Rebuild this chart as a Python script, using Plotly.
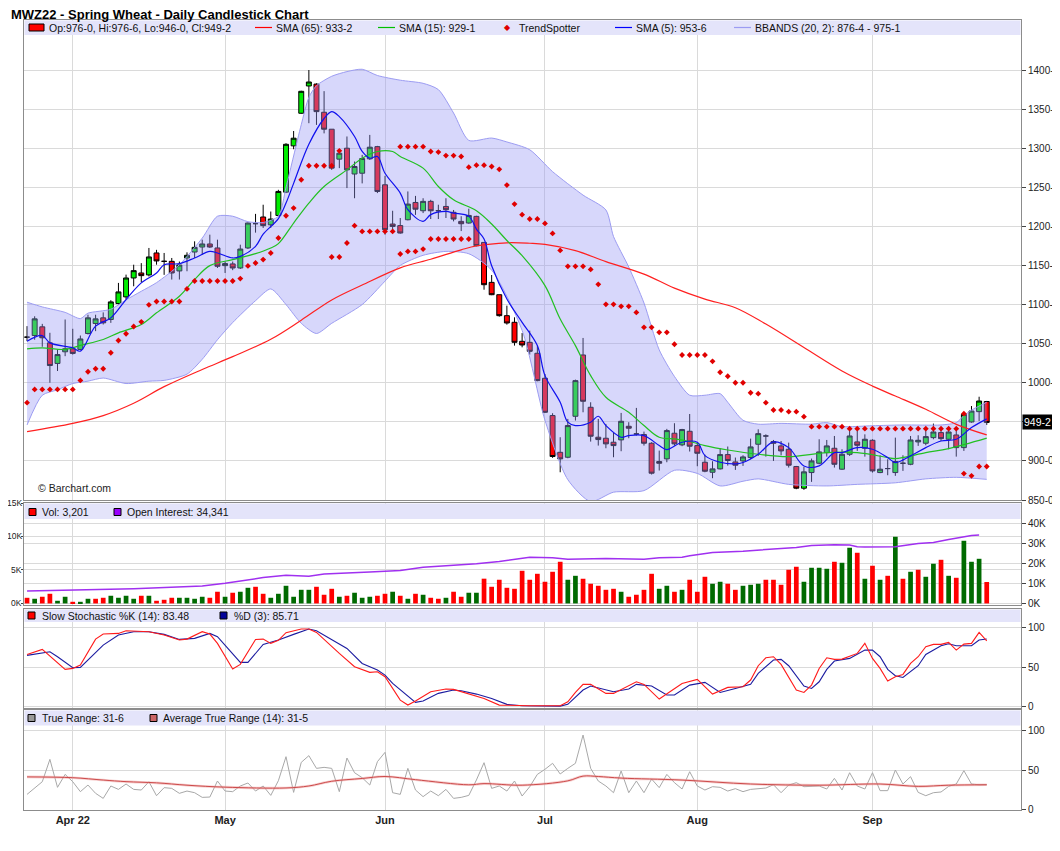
import pandas as pd
import plotly.graph_objects as go
from plotly.subplots import make_subplots

# trading days shown (exchange holidays removed)
holidays = ["2022-04-15", "2022-05-30", "2022-06-20", "2022-07-04", "2022-09-05"]
days = [d.strftime("%Y-%m-%d") for d in pd.bdate_range("2022-03-24", "2022-09-23")
        if d.strftime("%Y-%m-%d") not in holidays]

tick_dates = ["2022-04-01", "2022-05-02", "2022-06-01", "2022-07-01", "2022-08-01", "2022-09-01"]
tick_text = ["Apr 22", "May", "Jun", "Jul", "Aug", "Sep"]

opens = [1058.3, 1060.4, 1071.5, 1051, 1024.7, 1039.6, 1043.4, 1042.6, 1063, 1075.8,
         1083, 1080.9, 1101.3, 1109.8, 1134, 1140.4, 1137.9, 1166, 1155.3, 1155.3,
         1143, 1159.6, 1167.2, 1173.6, 1177.5, 1172.4, 1149.8, 1152, 1146.8, 1172.4,
         1203.5, 1212, 1202, 1214, 1243.8, 1303, 1344.7, 1379.6, 1382, 1346,
         1324.3, 1286, 1300, 1267, 1268, 1286.4, 1302, 1253.2, 1203, 1201,
         1208.5, 1230.6, 1220, 1232, 1220, 1225.5, 1218, 1206.4, 1204.3, 1212.8,
         1179.5, 1128.4, 1112.6, 1085.8, 1077.3, 1053, 1051.7, 1037.7, 1005.7, 958,
         911, 904.7, 957.1, 1035.5, 968.6, 930.3, 929, 923.9, 926.9, 944.3,
         934.5, 933.7, 922.6, 899.2, 902.6, 935.4, 920.5, 937.9, 919.6, 898.3,
         885.5, 889.8, 908.1, 898.7, 900, 904.3, 921.3, 931.9, 924.7, 919.2,
         914.9, 892.8, 865.1, 885.1, 897, 910.6, 916.2, 889.4, 908.5, 924.3,
         916.2, 926.4, 885.1, 890.2, 885.1, 897, 895.7, 924.3, 922.6, 929.8,
         936.2, 927.7, 933.2, 917, 949.8, 963, 976]
highs = [1072.4, 1085, 1075.3, 1063.9, 1042.6, 1080.9, 1069, 1060.4, 1087, 1087,
         1090, 1105.6, 1127.7, 1138.3, 1151, 1153, 1172.4, 1170, 1166, 1159.6,
         1155, 1166.8, 1180.9, 1183, 1189.4, 1183, 1155, 1155, 1176.6, 1205,
         1216, 1227.7, 1219, 1246.8, 1306.4, 1322, 1373.5, 1400, 1383, 1373,
         1324.3, 1298.7, 1315, 1283, 1291.5, 1317, 1303, 1264.7, 1220, 1210.7,
         1244.7, 1239, 1236, 1234, 1227.7, 1236, 1221, 1213, 1222.6, 1213.6,
         1179.5, 1137.8, 1112.6, 1098.6, 1083.7, 1063.6, 1066.6, 1047.5, 1011.2, 961,
         930.3, 953.7, 1004, 1057.3, 975, 953.7, 947.3, 936.7, 961.4, 949.5,
         967.8, 937.5, 923.9, 913.2, 941, 948.2, 941, 960, 923.9, 908.1,
         899.6, 916.2, 918.4, 904.3, 907.2, 928.5, 940.4, 934, 926.8, 925.5,
         923.4, 893.6, 892.3, 903, 927.7, 926.8, 931.9, 914.9, 942.6, 938.3,
         934, 927.7, 907.2, 902.1, 929.8, 907.2, 931.9, 932.8, 942.6, 947.7,
         940.4, 940.4, 940.4, 962.6, 970.2, 982.1, 976.75]
lows = [1053.2, 1055, 1046, 1000, 1015, 1034, 1036, 1041.7, 1061.7, 1066,
        1074.5, 1076.6, 1100, 1106.4, 1123.4, 1128.5, 1136, 1151, 1138, 1132,
        1132, 1142.6, 1159.6, 1163.8, 1172.4, 1146.8, 1140.4, 1144, 1145.5, 1171,
        1192, 1198, 1198, 1212.8, 1242.6, 1298.7, 1344, 1332, 1329.8, 1319,
        1272.3, 1274.5, 1249, 1236, 1255, 1285, 1242.6, 1189.4, 1191.5, 1190.7,
        1207.7, 1214.7, 1217, 1209.4, 1209.4, 1210.7, 1206.4, 1194, 1203.4, 1174.5,
        1119, 1112, 1084.5, 1074.3, 1047.5, 1045.3, 1036, 1001.9, 961.4, 903.9,
        885.5, 903.4, 951.6, 962.2, 924.7, 919.6, 916.2, 904.7, 912.4, 929,
        932.4, 919.6, 882.6, 887.7, 898.3, 919.6, 918.8, 912, 893.2, 885.5,
        877.9, 889, 894, 888.5, 893.6, 902.1, 906.4, 905.5, 900, 907.2,
        891.5, 863.8, 863, 873.2, 895.7, 905.5, 891.5, 888.5, 906.4, 912.8,
        905.5, 885.1, 884.3, 881.7, 880.9, 887.2, 894.5, 919.2, 920, 927.7,
        925.5, 914.9, 905.5, 912.8, 948.9, 951, 946]
closes = [1058.3, 1081.7, 1057.5, 1022, 1036, 1043.4, 1037.5, 1056, 1083, 1081.7,
          1076.6, 1103.4, 1116.2, 1134, 1143.4, 1137, 1160.9, 1155.8, 1155.3, 1140.4,
          1150.6, 1163, 1173.2, 1177.5, 1173.6, 1149, 1152.4, 1146.8, 1171, 1204.3,
          1203.5, 1201, 1209.4, 1244.7, 1305, 1312.8, 1372.8, 1384.7, 1346.8, 1324.3,
          1274.5, 1293.6, 1272.3, 1276.6, 1286.8, 1301.3, 1244.7, 1195.8, 1200, 1191.5,
          1228.5, 1222, 1232, 1220, 1220, 1221.3, 1209.4, 1203.4, 1214, 1175.3,
          1125.4, 1112.6, 1085.8, 1076.4, 1051.7, 1048.3, 1040.2, 1002.7, 962.2, 905.6,
          902.6, 945.2, 1002.7, 976.3, 931.6, 927.3, 921.8, 919.6, 950.7, 941.8,
          934.5, 922.6, 884.3, 897, 938.8, 921.8, 940.1, 918.8, 909.8, 886.8,
          889.8, 908.1, 900.5, 894.5, 905.1, 917.9, 934.9, 931.9, 922.6, 912.8,
          894.5, 865.1, 886, 900, 911.5, 919.2, 895.7, 908.5, 931.9, 920,
          927.7, 887.2, 889.4, 890.2, 899.2, 897, 926.8, 926.4, 931.1, 937,
          928.5, 937, 917, 959.6, 963.8, 976.6, 949.25]

# overlays, read at selected days (1 = first day on the chart)
sma65_day = [1, 7, 11, 15, 19, 24, 28, 33, 37, 41, 45, 50, 54, 58, 60, 64, 67, 69, 73, 77,
             82, 86, 90, 94, 98, 103, 108, 112, 115, 119, 123, 127]
sma65_val = [937.5, 948, 958, 973.8, 995, 1017, 1033.4, 1055.6, 1080, 1105.9, 1125, 1147,
             1158, 1170, 1175, 1179, 1178.4, 1177, 1169, 1155, 1139, 1121, 1107, 1096, 1075,
             1045, 1015, 995.7, 983, 966, 946.8, 933.25]
sma15_day = [1, 3, 6, 8, 11, 13, 16, 18, 21, 23, 25, 28, 31, 33, 34, 36, 38, 40, 43, 45, 47,
             49, 50, 53, 55, 57, 60, 62, 64, 66, 69, 71, 73, 75, 77, 80, 82, 84, 86, 88, 90,
             93, 97, 101, 106, 110, 114, 115, 119, 122, 127]
sma15_val = [1043.4, 1044.7, 1042.6, 1047.7, 1055.3, 1063.8, 1074.5, 1089.4, 1110.7, 1132,
             1149.8, 1157.5, 1165.1, 1172.4, 1178, 1204.3, 1229.8, 1251, 1272.3, 1287.2,
             1295.8, 1295.8, 1289.4, 1274.5, 1251, 1234, 1220, 1203, 1182, 1162.5, 1124.2,
             1081.5, 1047.5, 1009.1, 981.4, 962.2, 945.2, 930.3, 928.2, 924.8, 919.6, 914,
             908.5, 905.5, 910.6, 910.6, 904.3, 903, 910.6, 915.8, 929.1]
sma5_day = [1, 3, 4, 7, 8, 10, 12, 14, 16, 18, 19, 21, 23, 25, 26, 28, 29, 31, 32, 34, 35,
            36, 38, 40, 41, 42, 44, 45, 46, 47, 48, 50, 51, 53, 54, 56, 57, 59, 60, 61, 62,
            64, 66, 68, 69, 71, 72, 73, 75, 76, 77, 79, 80, 82, 84, 85, 87, 89, 90, 92, 94,
            95, 97, 99, 101, 103, 105, 107, 108, 110, 112, 114, 115, 117, 119, 121, 123, 125, 127]
sma5_val = [1053.2, 1060.4, 1051, 1044.7, 1040.4, 1072.4, 1083, 1106.4, 1127.7, 1140.4, 1151,
            1152.3, 1159.6, 1168, 1166, 1159.6, 1161.7, 1174.5, 1190, 1210, 1229.8, 1255, 1305,
            1338, 1346.8, 1340.4, 1315, 1295.8, 1287.2, 1289.4, 1268, 1242.6, 1221.3, 1206.4,
            1215, 1219.1, 1217, 1212.8, 1196.6, 1183.8, 1149.7, 1107.1, 1077.3, 1047.5, 1009.1,
            975, 949.5, 945.2, 949.5, 957.1, 945.2, 930.3, 932.4, 932.4, 919.6, 914.5, 923.9,
            923.9, 906.8, 898.3, 896.2, 897.9, 908.5, 924.3, 917, 893.6, 893.6, 910.6, 910.6,
            917, 914.9, 904.3, 897.9, 906.4, 917, 925.5, 927.7, 942.6, 953.75]
bb_up_day = [1, 3, 6, 8, 9, 12, 14, 16, 18, 21, 24, 26, 28, 30, 32, 34, 35, 36, 37, 38, 39,
             41, 43, 45, 47, 50, 53, 55, 57, 59, 62, 64, 67, 70, 74, 77, 78, 80, 82, 84, 86,
             88, 90, 92, 93, 95, 97, 100, 104, 106, 108, 112, 116, 121, 123, 124, 125, 127]
bb_up_val = [1103, 1097, 1090, 1082, 1089, 1094, 1106, 1117, 1128, 1151, 1185, 1213, 1213,
             1206, 1205, 1213, 1250, 1290, 1330, 1365, 1380, 1392, 1398, 1401, 1393, 1387, 1383,
             1375, 1345, 1310, 1313, 1308, 1298, 1270, 1240, 1221, 1187, 1148, 1102, 1042, 1008,
             984, 984, 986, 975, 952, 947, 948, 947, 949, 944, 945, 946, 946, 949, 958, 965, 975.1]
bb_low_day = [1, 3, 5, 7, 9, 11, 14, 17, 19, 22, 24, 26, 28, 31, 33, 35, 37, 39, 41, 45, 48,
              50, 53, 56, 59, 62, 66, 69, 72, 75, 78, 82, 86, 89, 92, 95, 97, 101, 106, 110,
              115, 119, 123, 127]
bb_low_val = [946, 984, 991, 999, 1002, 1006, 999, 1002, 1003, 1011, 1030, 1055, 1077, 1105,
              1120, 1100, 1076, 1063, 1076, 1100, 1130, 1150, 1163, 1168, 1165, 1144, 1067, 952,
              876, 848, 860, 862, 888, 884, 868, 874, 877, 870, 868, 870, 872, 877, 879, 876.4]

ts_day = [1, 2, 3, 4, 5, 6, 7, 8, 9, 10, 11, 12, 13, 14, 15, 16, 17, 18, 19, 20,
          21, 22, 23, 24, 25, 26, 27, 28, 29, 30, 31, 32, 33, 34, 35, 36, 37, 38, 39, 40,
          41, 42, 41, 42, 43, 44, 45, 46, 47, 48, 49, 50, 51, 52, 53, 54, 55, 56, 57, 58, 59,
          50, 51, 52, 53, 54, 55, 56, 57, 58, 59, 60, 61, 62, 63, 64, 65, 66, 67, 68, 69,
          70, 71, 72, 73, 74, 75, 76, 77, 78, 79, 80, 81, 82, 83, 84, 85, 86, 87, 88, 89,
          90, 91, 92, 93, 94, 95, 96, 97, 98, 99, 100, 101, 102, 103, 104, 105, 106, 107, 108, 109,
          110, 111, 112, 113, 114, 115, 116, 117, 118, 119, 120, 121, 122, 123, 124, 124, 125, 126, 127]
ts_val = [974.5, 991.5, 991.5, 991.5, 991.5, 991.5, 991.5, 1003, 1014, 1017.9, 1017.9, 1038.3,
          1054, 1062.6, 1071.9, 1077.9, 1099.6, 1103.9, 1103.9, 1103.9,
          1103.9, 1120, 1130.2, 1130.2, 1130.2, 1130.2, 1130.2, 1130.2, 1133.2, 1149.4, 1153.2,
          1157.5, 1166, 1185.1, 1213.6, 1223.4, 1259.6, 1277.5, 1277.5, 1277.5,
          1277.5, 1296.6, 1160.9, 1160.9, 1178.7, 1200.9, 1193.6, 1193.6, 1193.6, 1193.6, 1193.6,
          1164.7, 1168, 1168, 1171, 1183.8, 1183.8, 1183.8, 1183.8, 1183.8, 1183.8,
          1302, 1302, 1302, 1302, 1295.8, 1295, 1290.6, 1290.6, 1289.4, 1275.8, 1278.3, 1278.3,
          1276.6, 1273, 1252.8, 1228.5, 1215, 1209.4, 1209.4, 1203.8,
          1191, 1169.3, 1148.9, 1148.9, 1148.9, 1145, 1125.9, 1100.3, 1100.3, 1097.7, 1097.7,
          1090, 1070.9, 1070.9, 1064.5, 1064.5, 1049.2, 1035.5, 1035.5, 1035.5,
          1035.5, 1027.4, 1013.4, 1008.3, 1000, 1000, 987.2, 986, 974.5, 965.1, 965.1, 963, 963,
          956.6, 943.8, 943.8, 943.8, 943.8, 943.8, 941.3,
          941.3, 941.3, 941.3, 941.3, 941.3, 941.3, 941.3, 941.3, 941.3, 941.3, 941.3, 941.3,
          941.3, 941.3, 960.4, 883.8, 880.9, 892.8, 892.8]

volume = [847, 700, 1000, 1445, 400, 1000, 250, 250, 700, 700,
          850, 1150, 850, 1150, 700, 1150, 1150, 400, 550, 850,
          850, 850, 700, 1000, 850, 1750, 1000, 1600, 1750, 2340,
          2490, 1445, 850, 1445, 2640, 1000, 2040, 2040, 2490, 1300,
          2190, 1000, 1150, 1600, 850, 1000, 1150, 1445, 1750, 1150,
          700, 1445, 1300, 850, 700, 850, 1750, 1000, 1600, 1600,
          3700, 2490, 3540, 2340, 2190, 4880, 3540, 4430, 3240, 4730,
          6225, 3540, 4130, 3690, 2940, 2640, 2040, 2190, 1745, 1000,
          1300, 2040, 4430, 2190, 2640, 1745, 2040, 3540, 1745, 3985,
          2940, 3240, 2940, 2040, 2640, 2790, 2940, 3540, 3540, 2790,
          5030, 5480, 3240, 5330, 5330, 5180, 6225, 6075, 8320, 7570,
          3690, 5630, 3540, 4130, 9960, 3690, 4730, 5030, 3985, 5930,
          6520, 4130, 3835, 9360, 6225, 6670, 3201]
# u = close above previous close, d = below
vol_dir = ("dudduuduud" "duuuududdd" "uuuudduduu" "dduuuuuudd" "duduuuddud"
           "ududdudduu" "dddddddddd" "duudddddud" "ddduududdd" "uudduuuddd"
           "dduuuuduud" "ududududuu" "duduuud")

oi_day = [1, 7, 15, 24, 27, 32, 35, 38, 40, 46, 50, 53, 57, 60, 63, 66, 67, 70, 72, 77, 82,
          84, 87, 88, 91, 95, 98, 100, 102, 104, 107, 109, 110, 111, 115, 118, 120, 122, 124,
          125, 126]
oi_val = [6360, 6860, 7530, 8870, 10210, 13060, 14230, 13730, 14900, 15900, 16570, 18250,
          19080, 19920, 21090, 22770, 23270, 22930, 22260, 22600, 22260, 22930, 23270, 23940,
          25610, 26280, 26950, 27620, 28120, 29130, 29460, 29300, 28460, 28290, 28460, 30130,
          30630, 32140, 33650, 34150, 34341]

stk_day = [1, 3, 6, 7, 8, 10, 11, 13, 14, 17, 19, 21, 22, 24, 25, 26, 28, 29, 31, 32, 33, 34,
           35, 37, 38, 39, 42, 44, 46, 47, 48, 50, 51, 52, 54, 56, 57, 59, 61, 63, 65, 67, 71,
           72, 73, 74, 75, 77, 78, 81, 82, 84, 87, 89, 91, 93, 95, 96, 97, 98, 99, 100, 102,
           103, 104, 105, 106, 107, 108, 110, 111, 112, 113, 114, 115, 116, 117, 118, 119, 120,
           121, 122, 123, 124, 125, 126, 127]
stk_val = [66.2, 72.6, 47.3, 48.5, 52.7, 85.6, 92, 92.8, 96.2, 95, 90.7, 84.4, 85.6, 95, 92,
           80.2, 47.7, 53.6, 85.2, 85.6, 80.2, 84, 93.7, 98.3, 98.3, 94.1, 67.5, 50.6, 43.5,
           44.3, 38, 8.4, 2.1, 7.2, 19, 22.4, 22, 16, 10.5, 2.1, 1.5, 1.3, 1.3, 6.3, 18.1, 28.3,
           28.3, 16.9, 16.9, 31.6, 28.3, 9.7, 29.5, 34.6, 16, 24.5, 25.3, 33.8, 51.9, 62, 63.3,
           53.6, 21.1, 18.1, 27.4, 48.5, 62, 59.9, 60.3, 67.5, 80.2, 61.2, 48.5, 32.5, 38, 40.9,
           54.8, 63.3, 75.9, 78.9, 78.9, 81.4, 71.7, 79.3, 80.2, 94.1, 83.48]
std_day = [1, 4, 5, 7, 8, 11, 13, 15, 17, 19, 21, 23, 25, 26, 29, 30, 32, 34, 36, 38, 39, 43,
           45, 47, 48, 49, 52, 53, 55, 57, 58, 60, 62, 64, 66, 71, 72, 74, 75, 76, 78, 80, 81,
           83, 85, 86, 88, 90, 92, 94, 96, 97, 99, 100, 101, 103, 104, 105, 106, 107, 109, 111,
           112, 113, 114, 115, 116, 118, 119, 121, 122, 123, 125, 126, 127]
std_val = [65, 69.6, 63.3, 49.4, 49.8, 78, 90.7, 95, 95, 91.6, 85.2, 86.5, 92.8, 88.6, 56.1,
           56.1, 78.9, 84.4, 91.6, 98.3, 96.2, 73.8, 54.8, 46.4, 40.1, 29.5, 5.5, 7.2, 16.9, 21.1,
           20.3, 16, 10.5, 3, 1.3, 0.8, 3, 21.1, 26.2, 24, 19, 22.4, 28.3, 26.2, 14.8, 14.8, 27.4,
           30.8, 18.1, 23.2, 28.3, 42.2, 59.1, 59.9, 51.9, 26.2, 23.2, 31.6, 47.3, 57.8, 61.2,
           71.7, 71.7, 63.3, 47.3, 39.2, 37.1, 51.9, 66.2, 77.2, 79.7, 77.2, 77.2, 84.4, 85.71]

true_range = [19.4, 27.9, 35.4, 63.7, 28.3, 44.7, 35.4, 22.8, 31.2, 20.7,
              14.3, 30.0, 25.7, 32.5, 25.7, 24.9, 35.4, 17.7, 27.9, 27.0,
              20.7, 23.6, 21.5, 15.6, 16.0, 36.3, 23.6, 22.8, 30.0, 33.8,
              23.6, 30.0, 18.1, 36.7, 67.1, 21.9, 59.9, 68.4, 52.3, 53.6,
              52.3, 22.8, 65.4, 46.8, 40.5, 31.2, 60.8, 72.6, 21.5, 19.4,
              52.3, 24.9, 16.5, 23.6, 17.7, 25.7, 14.3, 15.6, 18.1, 37.6,
              59.5, 27.0, 30.0, 23.6, 36.3, 17.3, 29.1, 44.7, 51.1, 58.7,
              45.2, 52.3, 58.7, 94.5, 52.3, 36.3, 30.0, 21.5, 49.0, 21.5,
              36.3, 21.5, 38.8, 27.9, 44.7, 34.2, 26.2, 48.1, 30.0, 24.9,
              29.1, 28.3, 23.6, 26.6, 22.8, 25.7, 27.0, 27.4, 31.6, 21.5,
              31.2, 34.2, 29.1, 29.1, 30.0, 26.2, 39.7, 24.9, 46.8, 30.0,
              26.2, 46.8, 24.1, 24.1, 50.2, 32.5, 41.8, 21.9, 17.7, 21.5,
              22.4, 29.5, 32.5, 49.4, 32.5, 31.5, 31.75]
atr_day = [1, 7, 11, 14, 18, 22, 27, 35, 38, 41, 45, 48, 52, 59, 61, 66, 72, 74, 76, 79, 87,
           96, 105, 113, 118, 122, 127]
atr_val = [41.5, 40.5, 37.5, 35.5, 34, 31, 28.5, 27.5, 30, 36, 39.5, 42, 38, 31.5, 33, 31, 36.5,
           42.5, 42, 40, 37.5, 32.5, 31, 32.5, 29.5, 31, 31.5]

price_ticks = list(range(850, 1401, 50))
# 950-0 sits under the last-price tag, so its label is left blank
price_tick_text = ["" if v == 950 else f"{v}-0" for v in price_ticks]
vol_ticks = [0, 5000, 10000, 15000]
vol_tick_text = ["0K", "5K", "10K", "15K"]


def at(day_list):
    return [days[d - 1] for d in day_list]


# positions are window pixels (plot area x 24..1021, y 20..810); the page
# sits 8px in from the window corner so the figure itself is 8px smaller
L, R, T, B = 24, 1021, 20, 810
W, H, PAGE = 1060, 851, 8


def px(x):
    return (x - L) / (R - L)


def py(y):
    return (B - y) / (B - T)


FONT = "Liberation Sans, Arial, sans-serif"

fig = make_subplots(rows=4, cols=1, shared_xaxes=True,
                    specs=[[{}], [{"secondary_y": True}], [{}], [{}]])

# price panel
fig.add_trace(go.Scatter(x=at(bb_up_day), y=bb_up_val, mode="lines",
                         line=dict(color="#9c9cf2", width=1, shape="spline", smoothing=0.7)), row=1, col=1)
fig.add_trace(go.Scatter(x=at(bb_low_day), y=bb_low_val, mode="lines", fill="tonexty",
                         fillcolor="rgba(150,150,245,0.38)",
                         line=dict(color="#9c9cf2", width=1, shape="spline", smoothing=0.7)), row=1, col=1)
fig.add_trace(go.Scatter(x=at(sma65_day), y=sma65_val, mode="lines",
                         line=dict(color="#ff2020", width=1.2, shape="spline")), row=1, col=1)
fig.add_trace(go.Scatter(x=at(sma15_day), y=sma15_val, mode="lines",
                         line=dict(color="#22c022", width=1.2, shape="spline")), row=1, col=1)
fig.add_trace(go.Scatter(x=at(sma5_day), y=sma5_val, mode="lines",
                         line=dict(color="#1010ee", width=1.2, shape="spline")), row=1, col=1)
fig.add_trace(go.Scatter(x=at(ts_day), y=ts_val, mode="markers",
                         marker=dict(symbol="diamond", size=4.5, color="#e00000",
                                     line=dict(width=0))), row=1, col=1)
fig.add_trace(go.Candlestick(x=days, open=opens, high=highs, low=lows, close=closes,
                             whiskerwidth=0,
                             increasing=dict(fillcolor="#00ee00", line=dict(color="black", width=1)),
                             decreasing=dict(fillcolor="#ff0000", line=dict(color="black", width=1))),
              row=1, col=1)

# volume + open interest
vol_colors = ["#006a00" if c == "u" else "#ff0000" for c in vol_dir]
fig.add_trace(go.Bar(x=days, y=volume, marker=dict(color=vol_colors, line=dict(width=0)), width=0.62),
              row=2, col=1, secondary_y=False)
fig.add_trace(go.Scatter(x=at(oi_day), y=oi_val, mode="lines",
                         line=dict(color="#a030f0", width=1.5)), row=2, col=1, secondary_y=True)

# stochastics
fig.add_trace(go.Scatter(x=at(std_day), y=std_val, mode="lines",
                         line=dict(color="#1c1ca0", width=1.1)), row=3, col=1)
fig.add_trace(go.Scatter(x=at(stk_day), y=stk_val, mode="lines",
                         line=dict(color="#ff1a1a", width=1.1)), row=3, col=1)

# true range
fig.add_trace(go.Scatter(x=days, y=true_range, mode="lines",
                         line=dict(color="#a8a8a8", width=1)), row=4, col=1)
fig.add_trace(go.Scatter(x=at(atr_day), y=atr_val, mode="lines",
                         line=dict(color="rgba(240,160,160,0.5)", width=2.6, shape="spline")), row=4, col=1)
fig.add_trace(go.Scatter(x=at(atr_day), y=atr_val, mode="lines",
                         line=dict(color="#cc4a4a", width=1, shape="spline")), row=4, col=1)

axis_style = dict(showline=True, mirror=True, linecolor="#8c8c8c", linewidth=1,
                  gridcolor="#dadada", zeroline=False, automargin=False,
                  tickfont=dict(family=FONT, size=10, color="#222"))

fig.update_xaxes(type="category", categoryorder="array", categoryarray=days,
                 domain=[0, 1], range=[-0.4, 130.5], tickvals=tick_dates, ticktext=tick_text,
                 showgrid=True, ticks="", rangeslider_visible=False, **axis_style)
fig.update_xaxes(tickfont=dict(family=FONT, size=11, color="#222", weight="bold"), row=4, col=1)

fig.update_yaxes(side="right", range=[850, 1464], tickvals=price_ticks,
                 ticktext=price_tick_text, ticks="outside", ticklen=4,
                 tickcolor="#444", row=1, col=1, **axis_style)
fig.update_yaxes(side="left", range=[-230, 15000], tickvals=vol_ticks, showticklabels=False,
                 ticks="outside", ticklen=2, tickcolor="#444",
                 row=2, col=1, secondary_y=False, **axis_style)
fig.update_yaxes(side="right", range=[-650, 50350], tickvals=[0, 10000, 20000, 30000, 40000],
                 ticktext=["0K", "10K", "20K", "30K", "40K"], ticks="outside", ticklen=4,
                 tickcolor="#444", row=2, col=1, secondary_y=True,
                 showline=True, linecolor="#8c8c8c", gridcolor="#dadada", zeroline=False,
                 automargin=False, tickfont=dict(family=FONT, size=10, color="#222"))
fig.update_yaxes(side="right", range=[-1.6, 123.7], tickvals=[0, 50, 100],
                 ticks="outside", ticklen=4, tickcolor="#444", row=3, col=1, **axis_style)
fig.update_yaxes(side="right", range=[-0.4, 126.2], tickvals=[0, 50, 100],
                 ticks="outside", ticklen=4, tickcolor="#444", row=4, col=1, **axis_style)

fig.update_layout(
    width=W - PAGE, height=H - PAGE,
    margin=dict(l=L - PAGE, r=W - R, t=T - PAGE, b=H - B, autoexpand=False),
    paper_bgcolor="white", plot_bgcolor="white", showlegend=False,
    boxgap=0.28, boxgroupgap=0.1,
    font=dict(family=FONT, size=11, color="#111"),
    yaxis=dict(domain=[py(500), 1]),
    yaxis2=dict(domain=[py(605), py(503)]),
    yaxis3=dict(domain=[py(605), py(503)]),
    yaxis4=dict(domain=[py(708), py(609)]),
    yaxis5=dict(domain=[0, py(710)]),
)

shapes = []
annotations = []

# lavender legend strips at the top of each panel
for top, bottom in [(20.5, 35), (503.5, 519), (609.5, 622), (710.5, 725.5)]:
    shapes.append(dict(type="rect", xref="paper", yref="paper", x0=0.0005, x1=0.9995,
                       y0=py(bottom), y1=py(top), fillcolor="#e4e4fa", line=dict(width=0),
                       layer="above"))


def label(x, y, text, size=10.5, color="#111", bold=False, anchor="left", family=FONT):
    annotations.append(dict(xref="paper", yref="paper", x=px(x), y=py(y), xanchor=anchor,
                            yanchor="middle", showarrow=False,
                            text=f"<b>{text}</b>" if bold else text,
                            font=dict(family=family, size=size, color=color)))


def swatch(x0, x1, y, color):
    shapes.append(dict(type="rect", xref="paper", yref="paper", x0=px(x0), x1=px(x1),
                       y0=py(y + 3.5), y1=py(y - 3.5), fillcolor=color,
                       line=dict(color="black", width=1), layer="above"))


def legline(x0, x1, y, color):
    shapes.append(dict(type="line", xref="paper", yref="paper", x0=px(x0), x1=px(x1),
                       y0=py(y), y1=py(y), line=dict(color=color, width=1.2), layer="above"))


# title
label(9, 15, "MWZ22 - Spring Wheat - Daily Candlestick Chart", size=13, color="#000", bold=True)

# price panel legend
swatch(29, 44, 27.5, "#ff0000")
label(47, 27.5, "Op:976-0, Hi:976-6, Lo:946-0, Cl:949-2")
legline(255, 272, 27.5, "#ff0000")
label(274, 27.5, "SMA (65): 933-2")
legline(378, 395, 27.5, "#00c000")
label(397, 27.5, "SMA (15): 929-1")
label(507, 27.5, "◆", size=8, color="#e00000", anchor="center", family="DejaVu Sans")
label(517, 27.5, "TrendSpotter")
legline(615, 632, 27.5, "#0000ff")
label(634, 27.5, "SMA (5): 953-6")
legline(734, 751, 27.5, "#9c9cf2")
label(753, 27.5, "BBANDS (20, 2): 876-4 - 975-1")

# volume legend
swatch(29, 36, 512, "#ff0000")
label(40, 512, "Vol: 3,201")
swatch(114, 121, 512, "#9900ff")
label(125, 512, "Open Interest: 34,341")

# left volume scale, set as small text just left of the frame
for v, t in zip(vol_ticks, vol_tick_text):
    annotations.append(dict(xref="paper", yref="y2", x=px(23), y=v, xanchor="right",
                            yanchor="middle", showarrow=False, text=t, borderpad=0,
                            font=dict(family=FONT, size=8.5, color="#222")))

# stochastic legend
swatch(28, 35, 615.5, "#ff0000")
label(40, 615.5, "Slow Stochastic %K (14): 83.48")
swatch(220, 227, 615.5, "#000099")
label(232, 615.5, "%D (3): 85.71")

# true range legend
swatch(28, 35, 718, "#999999")
label(40, 718, "True Range: 31-6")
swatch(150, 157, 718, "#cc6666")
label(161, 718, "Average True Range (14): 31-5")

label(36, 488, "© Barchart.com", color="#222")

# last price tag on the price axis
annotations.append(dict(xref="paper", yref="y", x=1, y=closes[-1], xanchor="left",
                        yanchor="middle", xshift=1, showarrow=False, text="949-2",
                        bgcolor="black", borderpad=1,
                        font=dict(family=FONT, size=10.5, color="white")))

fig.update_layout(shapes=shapes, annotations=annotations)

fig.write_html("out.html")
